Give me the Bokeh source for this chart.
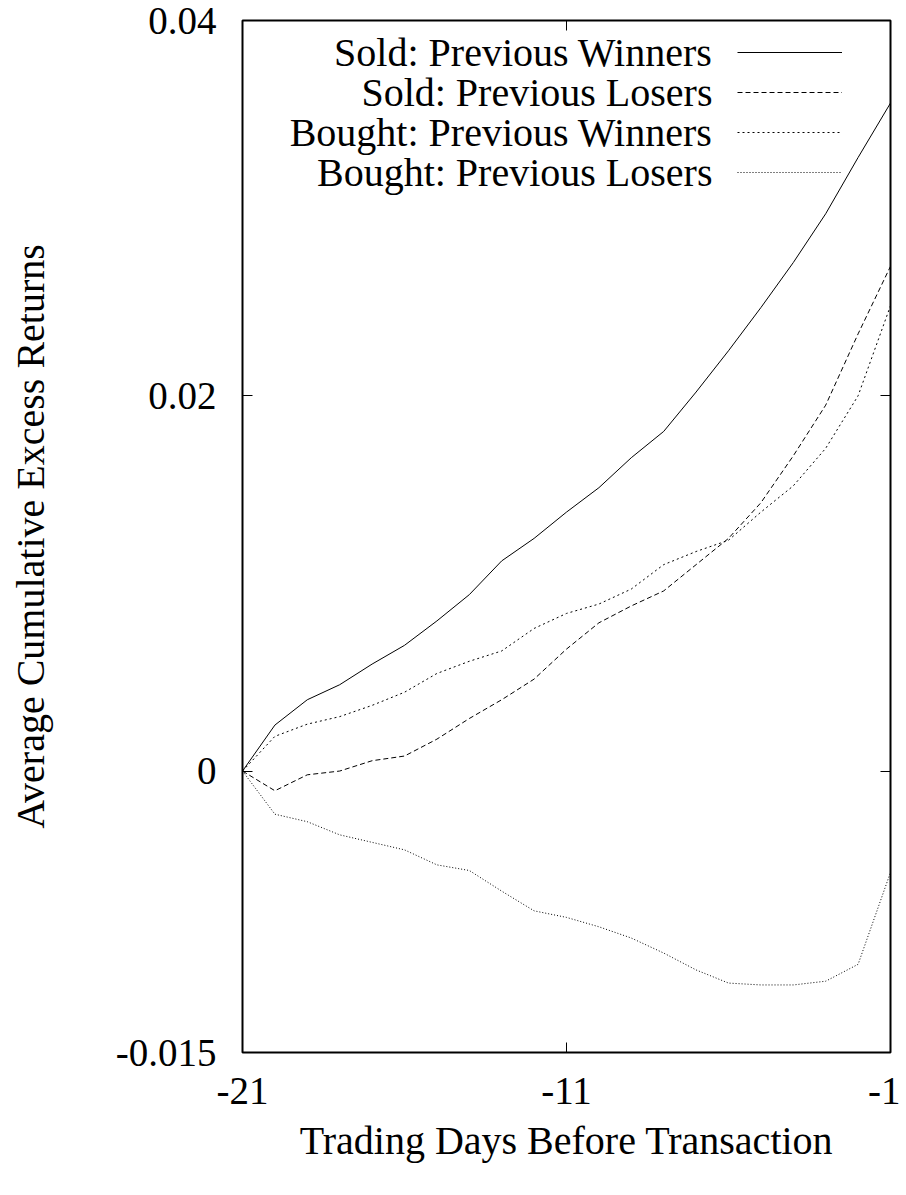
from bokeh.plotting import figure
from bokeh.models import (Range1d, LinearAxis, FixedTicker, Legend, LegendItem, Label)
from bokeh.embed import file_html
from bokeh.resources import INLINE

# ---------------- data ----------------
days = [-21, -20, -19, -18, -17, -16, -15, -14, -13, -12, -11,
        -10, -9, -8, -7, -6, -5, -4, -3, -2, -1]

sold_winners = [0.0, 0.00245, 0.0038, 0.0046, 0.0057, 0.0067, 0.0080, 0.0094,
                0.0112, 0.0124, 0.0138, 0.0151, 0.0167, 0.0181, 0.0202, 0.0224,
                0.0247, 0.0271, 0.0297, 0.0327, 0.0356]
sold_losers = [0.0, -0.00105, -0.0002, 0.0000, 0.00055, 0.0008, 0.0017, 0.0028,
               0.0038, 0.0049, 0.0065, 0.0079, 0.0088, 0.0096, 0.0110, 0.0124,
               0.0143, 0.0168, 0.0195, 0.0233, 0.0269]
bought_winners = [0.0, 0.00185, 0.0025, 0.0029, 0.0035, 0.0042, 0.0052, 0.00585,
                  0.0064, 0.0076, 0.0084, 0.0089, 0.0097, 0.0110, 0.0117, 0.0123,
                  0.0138, 0.0152, 0.0172, 0.0200, 0.0248]
bought_losers = [0.0, -0.0023, -0.0027, -0.0034, -0.0038, -0.0042, -0.0050, -0.0053,
                 -0.0064, -0.00745, -0.0078, -0.0083, -0.0089, -0.0097, -0.0106,
                 -0.0113, -0.0114, -0.0114, -0.0112, -0.0103, -0.0054]

series_names = ["Sold: Previous Winners", "Sold: Previous Losers",
                "Bought: Previous Winners", "Bought: Previous Losers"]

x_ticks = [-21, -11, -1]
x_tick_labels = ["-21", "-11", "-1"]
y_ticks = [-0.015, 0, 0.02, 0.04]
y_tick_labels = ["-0.015", "0", "0.02", "0.04"]

x_title = "Trading Days Before Transaction"
y_title = "Average Cumulative Excess Returns"

# ---------------- styles ----------------
FONT = "Liberation Serif"
FS = "40px"
TICK_FS = "39px"
dashes = ["solid", "5 3", "2 3", "1 2"]
series = [sold_winners, sold_losers, bought_winners, bought_losers]

p = figure(width=900, height=1190, output_backend="svg", toolbar_location=None,
           x_range=Range1d(-21, -1), y_range=Range1d(-0.015, 0.04),
           min_border_left=242, min_border_right=10, min_border_top=20,
           min_border_bottom=138)
p.background_fill_color = "white"
p.border_fill_color = "white"
p.xgrid.visible = False
p.ygrid.visible = False
p.outline_line_color = "black"
p.outline_line_width = 2

def style_axis(ax, ticks, labels, show_labels):
    ax.ticker = FixedTicker(ticks=ticks)
    ax.major_tick_in = 10
    ax.major_tick_out = 0
    ax.major_tick_line_color = "black"
    ax.major_tick_line_width = 1
    ax.minor_tick_line_color = None
    ax.axis_line_color = None
    if show_labels:
        ax.major_label_overrides = {t: l for t, l in zip(ticks, labels)}
        ax.major_label_text_font = FONT
        ax.major_label_text_font_size = TICK_FS
        ax.major_label_text_color = "black"
        ax.axis_label_text_font = FONT
        ax.axis_label_text_font_size = FS
        ax.axis_label_text_font_style = "normal"
        ax.axis_label_text_color = "black"
    else:
        ax.major_label_overrides = {t: "" for t in ticks}
        ax.major_label_text_font_size = "0px"
        ax.major_label_standoff = 0

xax = p.xaxis[0]
style_axis(xax, x_ticks, x_tick_labels, True)
xax.axis_label = x_title
xax.major_label_standoff = 25
xax.axis_label_standoff = 11

yax = p.yaxis[0]
style_axis(yax, y_ticks, y_tick_labels, True)
yax.axis_label = y_title
yax.major_label_standoff = 26
yax.axis_label_standoff = 60

top_ax = LinearAxis()
style_axis(top_ax, x_ticks, x_tick_labels, False)
p.add_layout(top_ax, "above")
right_ax = LinearAxis()
style_axis(right_ax, y_ticks, y_tick_labels, False)
p.add_layout(right_ax, "right")

renderers = []
for ys, dash in zip(series, dashes):
    r = p.line(days, ys, line_color="black", line_width=1, line_dash=dash)
    renderers.append(r)

# legend: line samples via Legend, texts via Labels (text sits left of sample)
legend = Legend(items=[LegendItem(label=" ", renderers=[r]) for r in renderers],
                location=(495, 860), glyph_width=105, glyph_height=40,
                label_height=40, label_width=1, spacing=0, padding=0, margin=0,
                label_standoff=0, label_text_font_size="1px",
                border_line_color=None, background_fill_alpha=0)
p.add_layout(legend)

row_y = [1000, 960, 920, 880]
for name, yy in zip(series_names, row_y):
    p.add_layout(Label(x=470, y=yy, x_units="screen", y_units="screen", text=name,
                       text_align="right", text_baseline="middle", text_font=FONT,
                       text_font_size=FS, text_color="black"))

open("out.html", "w").write(file_html(p, INLINE))
